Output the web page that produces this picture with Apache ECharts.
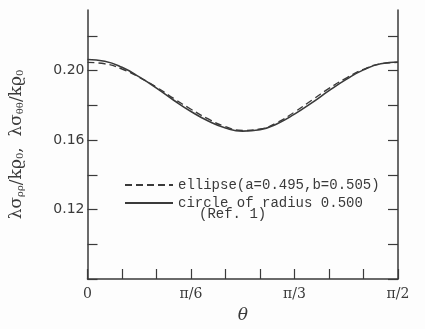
<!DOCTYPE html>
<html>
<head>
<meta charset="utf-8">
<script src="https://cdn.jsdelivr.net/npm/echarts@6/dist/echarts.min.js"></script>
<style>
  html, body { margin: 0; padding: 0; background: #fdfdfd; }
  #chart { width: 425px; height: 329px; }
</style>
</head>
<body>
<div id="chart"></div>
<script>
// theta in degrees (0 .. pi/2)
const theta = [0, 5, 10, 15, 20, 25, 30, 35, 40, 45, 50, 55, 60, 65, 70, 75, 80, 85, 90];
// circle of radius 0.500 (Ref. 1)
const circleVals = [0.2065, 0.2055, 0.2020, 0.1965, 0.1900, 0.1830, 0.1765, 0.1710, 0.1670, 0.1652,
  0.1660, 0.1695, 0.1750, 0.1815, 0.1885, 0.1950, 0.2005, 0.2040, 0.2050];
// ellipse a=0.495, b=0.505
const ellipseVals = [0.2048, 0.2040, 0.2010, 0.1962, 0.1905, 0.1840, 0.1778, 0.1722, 0.1678, 0.1656,
  0.1664, 0.1702, 0.1762, 0.1830, 0.1898, 0.1958, 0.2008, 0.2040, 0.2048];

const xTicks = [0, 10, 20, 30, 40, 50, 60, 70, 80, 90];
const xLabels = { 0: "0", 30: "π/6", 60: "π/3", 90: "π/2" };
const yTicks = [0.08, 0.10, 0.12, 0.14, 0.16, 0.18, 0.20, 0.22];
const yLabels = [0.12, 0.16, 0.20];

const ink = "#3a3a3a";
const chart = echarts.init(document.getElementById("chart"));

const yCommon = {
  type: "value",
  min: 0.08,
  max: 0.235,
  axisLine: { show: true, lineStyle: { color: ink, width: 1.5 } },
  axisTick: { show: true, inside: true, length: 10, customValues: yTicks, lineStyle: { color: ink, width: 1.2 } },
  splitLine: { show: false },
};

chart.setOption({
  backgroundColor: "#fdfdfd",
  animation: false,
  grid: { left: 86, right: 27, top: 10, bottom: 47 },
  legend: {
    left: 119,
    top: 173,
    orient: "vertical",
    itemWidth: 48,
    itemHeight: 10,
    itemGap: 4,
    itemStyle: { opacity: 0 },
    textStyle: { fontFamily: "Liberation Mono", fontSize: 14, color: ink },
    data: ["ellipse(a=0.495,b=0.505)", "circle of radius 0.500"],
  },
  graphic: [
    {
      type: "text",
      left: 199,
      top: 207,
      style: { text: "(Ref. 1)", fontFamily: "Liberation Mono", fontSize: 14, fill: ink },
    },
  ],
  xAxis: {
    type: "value",
    min: 0,
    max: 90,
    name: "θ",
    nameLocation: "middle",
    nameGap: 28,
    nameTextStyle: { fontFamily: "DejaVu Serif", fontStyle: "italic", fontSize: 17, color: ink },
    axisLine: { lineStyle: { color: ink, width: 1.5 } },
    axisTick: { inside: true, length: 10, customValues: xTicks, lineStyle: { color: ink, width: 1.2 } },
    axisLabel: {
      customValues: [0, 30, 60, 90],
      formatter: (v) => xLabels[v],
      fontFamily: "DejaVu Serif",
      fontSize: 14,
      color: ink,
      margin: 8,
    },
    splitLine: { show: false },
  },
  yAxis: [
    Object.assign({}, yCommon, {
      position: "left",
      name: "λσ{s|ρρ}/kϱ{s|0},  λσ{s|θθ}/kϱ{s|0}",
      nameLocation: "middle",
      nameGap: 62,
      nameTextStyle: {
        fontFamily: "DejaVu Serif",
        fontSize: 17,
        color: ink,
        rich: { s: { fontFamily: "DejaVu Serif", fontSize: 10, color: ink, verticalAlign: "bottom", padding: [8, 0, 0, 0] } },
      },
      axisLabel: {
        customValues: yLabels,
        formatter: (v) => v.toFixed(2),
        fontFamily: "DejaVu Sans",
        fontSize: 14,
        color: ink,
        margin: 3,
      },
    }),
    Object.assign({}, yCommon, {
      position: "right",
      axisLabel: { show: false },
    }),
  ],
  series: [
    {
      name: "ellipse(a=0.495,b=0.505)",
      type: "line",
      smooth: true,
      symbol: "none",
      data: theta.map((t, i) => [t, ellipseVals[i]]),
      lineStyle: { color: ink, width: 1.4, type: [7, 4] },
      itemStyle: { color: ink },
    },
    {
      name: "circle of radius 0.500",
      type: "line",
      smooth: true,
      symbol: "none",
      data: theta.map((t, i) => [t, circleVals[i]]),
      lineStyle: { color: ink, width: 1.6 },
      itemStyle: { color: ink },
    },
  ],
});
</script>
</body>
</html>
